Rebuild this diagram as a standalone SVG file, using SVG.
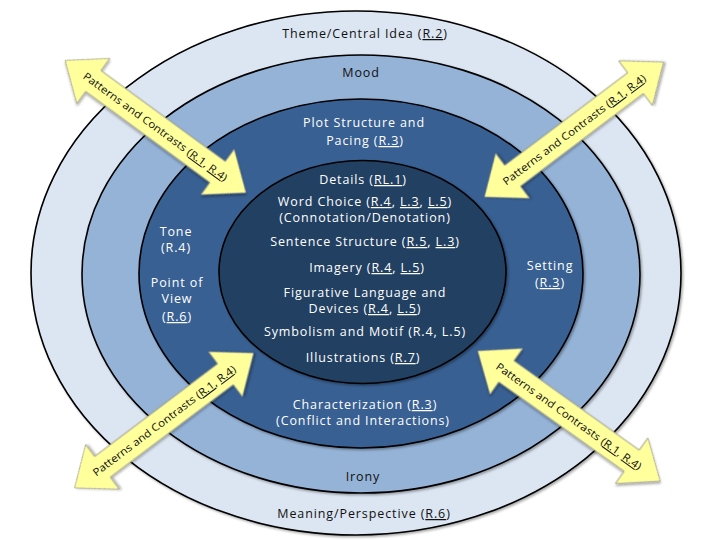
<svg xmlns="http://www.w3.org/2000/svg" xmlns:xlink="http://www.w3.org/1999/xlink" width="720" height="540" viewBox="0 0 720 540">
<defs>
<style>
.ring{stroke:#000;stroke-width:1.6}
.t{font-family:"Open Sans","DejaVu Sans",sans-serif;font-size:12.5px;letter-spacing:0.9px;text-anchor:middle}
.w{fill:#fff}
.b{fill:#111}
.u{text-decoration:underline}
.at{font-family:"Open Sans","DejaVu Sans",sans-serif;font-size:10.5px;text-anchor:middle;fill:#111}
.arrow{fill:#ffff9c;stroke:#9a9a8a;stroke-width:0.9}
</style>
<filter id="sh" x="-10%" y="-10%" width="120%" height="120%">
<feDropShadow dx="1.5" dy="1.5" stdDeviation="1.2" flood-color="#000" flood-opacity="0.35"/>
</filter>
<polygon id="dbl" points="-112,0 -77,-28 -77,-13 77,-13 77,-28 112,0 77,28 77,13 -77,13 -77,28"/>
</defs>
<rect width="720" height="540" fill="#fff"/>
<g id="ring-outer">
<ellipse class="ring" cx="356" cy="273" rx="325" ry="262" fill="#dce6f2" stroke-width="2.2" filter="url(#sh)"/>
<text class="t b" x="365" y="38">Theme/Central Idea (<tspan class="u">R.2</tspan>)</text>
<text class="t b" x="364" y="518">Meaning/Perspective (<tspan class="u">R.6</tspan>)</text>
</g>
<g id="ring-mood">
<ellipse class="ring" cx="361" cy="274" rx="279" ry="219" fill="#95b3d7" filter="url(#sh)"/>
<text class="t b" x="361" y="77">Mood</text>
<text class="t b" x="363" y="481">Irony</text>
</g>
<g id="ring-plot">
<ellipse class="ring" cx="361" cy="273.5" rx="222" ry="174.5" fill="#376092" filter="url(#sh)"/>
<text class="t w" x="364" y="127">Plot Structure and</text>
<text class="t w" x="365" y="145">Pacing (<tspan class="u">R.3</tspan>)</text>
<text class="t w" x="176" y="236">Tone</text>
<text class="t w" x="176" y="252">(R.4)</text>
<text class="t w" x="177" y="287">Point of</text>
<text class="t w" x="177" y="303">View</text>
<text class="t w" x="177" y="321">(<tspan class="u">R.6</tspan>)</text>
<text class="t w" x="550" y="270">Setting</text>
<text class="t w" x="550" y="287">(<tspan class="u">R.3</tspan>)</text>
<text class="t w" x="365" y="409">Characterization (<tspan class="u">R.3</tspan>)</text>
<text class="t w" x="363" y="425">(Conflict and Interactions)</text>
</g>
<g id="ring-inner">
<ellipse class="ring" cx="362.5" cy="272" rx="143.5" ry="111.5" fill="#244062" filter="url(#sh)"/>
<text class="t w" x="363" y="184">Details (<tspan class="u">RL.1</tspan>)</text>
<text class="t w" x="365" y="206">Word Choice (<tspan class="u">R.4</tspan>, <tspan class="u">L.3</tspan>, <tspan class="u">L.5</tspan>)</text>
<text class="t w" x="365" y="222">(Connotation/Denotation)</text>
<text class="t w" x="365" y="246">Sentence Structure (<tspan class="u">R.5</tspan>, <tspan class="u">L.3</tspan>)</text>
<text class="t w" x="367" y="272">Imagery (<tspan class="u">R.4</tspan>, <tspan class="u">L.5</tspan>)</text>
<text class="t w" x="365" y="297">Figurative Language and</text>
<text class="t w" x="365" y="313">Devices (<tspan class="u">R.4</tspan>, <tspan class="u">L.5</tspan>)</text>
<text class="t w" x="365" y="336">Symbolism and Motif (R.4, L.5)</text>
<text class="t w" x="363" y="362">Illustrations (<tspan class="u">R.7</tspan>)</text>
</g>
<g id="connectors">
<g id="arrow-tl" transform="translate(155.5,126.5) rotate(36.2)">
<use xlink:href="#dbl" class="arrow" filter="url(#sh)"/>
<text class="at" x="0" y="4" textLength="176" lengthAdjust="spacingAndGlyphs">Patterns and Contrasts (<tspan class="u">R.1</tspan>, <tspan class="u">R.4</tspan>)</text>
</g>
<g id="arrow-tr" transform="translate(574,129.5) rotate(-37)">
<use xlink:href="#dbl" class="arrow" filter="url(#sh)"/>
<text class="at" x="0" y="4" textLength="176" lengthAdjust="spacingAndGlyphs">Patterns and Contrasts (<tspan class="u">R.1</tspan>, <tspan class="u">R.4</tspan>)</text>
</g>
<g id="arrow-bl" transform="translate(164,420.5) rotate(-37)">
<use xlink:href="#dbl" class="arrow" filter="url(#sh)"/>
<text class="at" x="0" y="4" textLength="176" lengthAdjust="spacingAndGlyphs">Patterns and Contrasts (<tspan class="u">R.1</tspan>, <tspan class="u">R.4</tspan>)</text>
</g>
<g id="arrow-br" transform="translate(569,416) rotate(35.5)">
<use xlink:href="#dbl" class="arrow" filter="url(#sh)"/>
<text class="at" x="0" y="4" textLength="176" lengthAdjust="spacingAndGlyphs">Patterns and Contrasts (<tspan class="u">R.1</tspan>, <tspan class="u">R.4</tspan>)</text>
</g>
</g>
</svg>
